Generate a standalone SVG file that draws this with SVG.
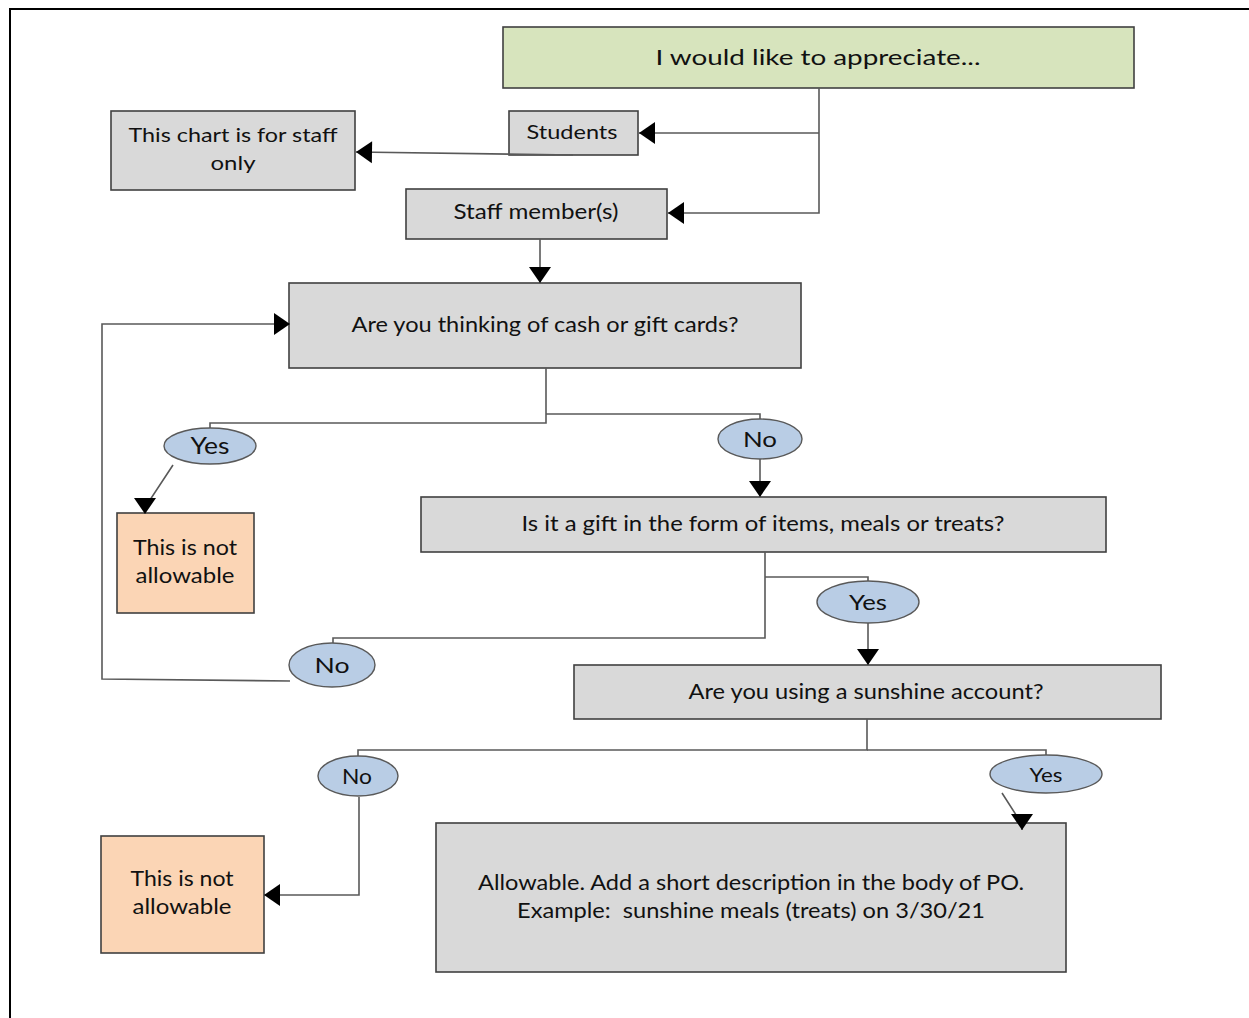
<svg xmlns="http://www.w3.org/2000/svg" width="1249" height="1018" viewBox="0 0 1249 1018">
<defs>
<style>
.box{fill:#d9d9d9;stroke:#404040;stroke-width:1.6}
.start{fill:#d7e4bd;stroke:#404040;stroke-width:1.6}
.bad{fill:#fbd5b5;stroke:#404040;stroke-width:1.6}
.lbl{fill:#b9cde5;stroke:#595959;stroke-width:1.4}
text{font-family:Lato,"Open Sans","Liberation Sans",sans-serif;fill:#111;text-anchor:middle}
.conn path{fill:none;stroke:#595959;stroke-width:1.6}
.conn path.a{marker-end:url(#arr)}
</style>
<marker id="arr" markerUnits="userSpaceOnUse" markerWidth="16" markerHeight="22" refX="16" refY="11" orient="auto" overflow="visible">
<path d="M0,0 L16,11 L0,22 z" fill="#000"/>
</marker>
</defs>
<rect width="1249" height="1018" fill="#fff"/>
<path d="M10,1018 V9 H1249" fill="none" stroke="#000" stroke-width="2"/>

<g id="n-start"><rect class="start" x="503" y="27" width="631" height="61"/><text x="818" y="65" font-size="22" textLength="325" lengthAdjust="spacingAndGlyphs">I would like to appreciate...</text></g>
<g id="n-students"><rect class="box" x="509" y="111" width="129" height="44"/><text x="572" y="139" font-size="20" textLength="91" lengthAdjust="spacingAndGlyphs">Students</text></g>
<g id="n-staffonly"><rect class="box" x="111" y="111" width="244" height="79"/><text x="233" y="142" font-size="20" textLength="209" lengthAdjust="spacingAndGlyphs">This chart is for staff</text><text x="233" y="170" font-size="20" textLength="45" lengthAdjust="spacingAndGlyphs">only</text></g>
<g id="n-staff"><rect class="box" x="406" y="189" width="261" height="50"/><text x="536" y="219" font-size="21" textLength="165" lengthAdjust="spacingAndGlyphs">Staff member(s)</text></g>
<g id="n-cash"><rect class="box" x="289" y="283" width="512" height="85"/><text x="545" y="332" font-size="21" textLength="387" lengthAdjust="spacingAndGlyphs">Are you thinking of cash or gift cards?</text></g>
<g id="n-yes1"><ellipse class="lbl" cx="210" cy="446" rx="46" ry="18"/><text x="210" y="454" font-size="23" textLength="39" lengthAdjust="spacingAndGlyphs">Yes</text></g>
<g id="n-notallow1"><rect class="bad" x="117" y="513" width="137" height="100"/><text x="185" y="555" font-size="22" textLength="104" lengthAdjust="spacingAndGlyphs">This is not</text><text x="185" y="583" font-size="22" textLength="99" lengthAdjust="spacingAndGlyphs">allowable</text></g>
<g id="n-no1"><ellipse class="lbl" cx="760" cy="439" rx="42" ry="20"/><text x="760" y="447" font-size="22" textLength="34" lengthAdjust="spacingAndGlyphs">No</text></g>
<g id="n-gift"><rect class="box" x="421" y="497" width="685" height="55"/><text x="763" y="531" font-size="21" textLength="483" lengthAdjust="spacingAndGlyphs">Is it a gift in the form of items, meals or treats?</text></g>
<g id="n-yes2"><ellipse class="lbl" cx="868" cy="602" rx="51" ry="21"/><text x="868" y="610" font-size="22" textLength="38" lengthAdjust="spacingAndGlyphs">Yes</text></g>
<g id="n-no2"><ellipse class="lbl" cx="332" cy="665" rx="43" ry="22"/><text x="332" y="673" font-size="22" textLength="35" lengthAdjust="spacingAndGlyphs">No</text></g>
<g id="n-sunshine"><rect class="box" x="574" y="665" width="587" height="54"/><text x="866" y="699" font-size="21" textLength="355" lengthAdjust="spacingAndGlyphs">Are you using a sunshine account?</text></g>
<g id="n-no3"><ellipse class="lbl" cx="358" cy="776" rx="40" ry="20"/><text x="357" y="784" font-size="21" textLength="30" lengthAdjust="spacingAndGlyphs">No</text></g>
<g id="n-yes3"><ellipse class="lbl" cx="1046" cy="774" rx="56" ry="19"/><text x="1046" y="782" font-size="20" textLength="33" lengthAdjust="spacingAndGlyphs">Yes</text></g>
<g id="n-notallow2"><rect class="bad" x="101" y="836" width="163" height="117"/><text x="182" y="886" font-size="22" textLength="103" lengthAdjust="spacingAndGlyphs">This is not</text><text x="182" y="914" font-size="22" textLength="99" lengthAdjust="spacingAndGlyphs">allowable</text></g>
<g id="n-allow"><rect class="box" x="436" y="823" width="630" height="149"/><text x="751" y="890" font-size="21" textLength="546" lengthAdjust="spacingAndGlyphs">Allowable. Add a short description in the body of PO.</text><text x="751" y="918" font-size="21" textLength="468" lengthAdjust="spacingAndGlyphs" xml:space="preserve">Example:  sunshine meals (treats) on 3/30/21</text></g>

<g class="conn">
<path class="a" d="M819,88 V213 H668"/>
<path class="a" d="M819,133 H639"/>
<path class="a" d="M573,155 L356,152"/>
<path class="a" d="M540,239 V283"/>
<path d="M546,368 V423 H210 V428"/>
<path d="M546,414 H760 V419"/>
<path class="a" d="M173,465 L148,503 L145,503 L145,514"/>
<path class="a" d="M760,459 V497"/>
<path d="M765,552 V638 H333 V643"/>
<path d="M765,577 H868 V581"/>
<path class="a" d="M868,623 V665"/>
<path class="a" d="M290,681 L102,679 V324 H290"/>
<path d="M867,719 V750 H358 V756"/>
<path d="M867,750 H1046 V755"/>
<path class="a" d="M1002,793 L1018,818 L1022,818 L1022,830"/>
<path class="a" d="M359,797 V895 H264"/>
</g>
</svg>
